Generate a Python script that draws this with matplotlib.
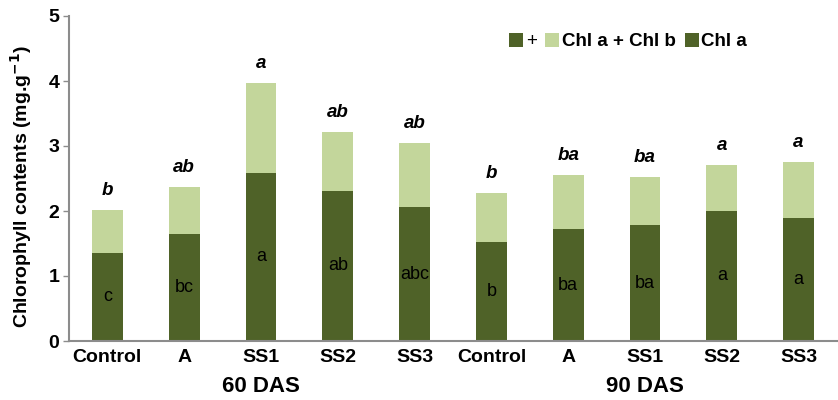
import matplotlib
matplotlib.use("Agg")
import matplotlib.pyplot as plt
from matplotlib.patches import Patch

plt.rcParams['font.family'] = ['Liberation Sans', 'DejaVu Sans']

categories = ["Control", "A", "SS1", "SS2", "SS3", "Control", "A", "SS1", "SS2", "SS3"]
groups = ["60 DAS", "90 DAS"]
chl_a = [1.36, 1.65, 2.59, 2.31, 2.06, 1.53, 1.72, 1.78, 2.00, 1.89]
chl_total = [2.02, 2.37, 3.97, 3.22, 3.05, 2.28, 2.55, 2.53, 2.71, 2.76]
chl_b = [t - a for t, a in zip(chl_total, chl_a)]
letters_a = ["c", "bc", "a", "ab", "abc", "b", "ba", "ba", "a", "a"]
letters_total = ["b", "ab", "a", "ab", "ab", "b", "ba", "ba", "a", "a"]

dark = "#4f6228"
light = "#c3d69b"
gray = "#8c8c8c"

fig = plt.figure(figsize=(8.38, 4.0), dpi=100)
ax = fig.add_axes([0.0823, 0.1475, 0.9165, 0.8125])

x = list(range(len(categories)))
w = 0.40
ax.bar(x, chl_a, width=w, color=dark, edgecolor='none', zorder=2)
ax.bar(x, chl_b, width=w, bottom=chl_a, color=light, edgecolor='none', zorder=2)

for xi, a, t, la, lt in zip(x, chl_a, chl_total, letters_a, letters_total):
    ax.text(xi, a / 2, la, ha='center', va='center', fontsize=13, color='black')
    ax.text(xi, t + 0.17, lt, ha='center', va='bottom', fontsize=13.5,
            fontweight='bold', fontstyle='italic', color='black')

ax.set_xlim(-0.5, len(categories) - 0.5)
ax.set_ylim(0, 5)
ax.set_yticks([0, 1, 2, 3, 4, 5])
ax.set_xticks(x)
ax.set_xticklabels(categories, fontsize=14, fontweight='bold')
for lab in ax.get_yticklabels():
    lab.set_fontsize(14)
    lab.set_fontweight('bold')
ax.tick_params(axis='x', length=0, pad=6)
ax.tick_params(axis='y', length=4, width=1, color=gray, pad=3, direction='out')

for s in ['top', 'right']:
    ax.spines[s].set_visible(False)
ax.spines['left'].set_color(gray)
ax.spines['bottom'].set_color(gray)
ax.spines['left'].set_linewidth(1.5)
ax.spines['bottom'].set_linewidth(1.5)

ax.set_ylabel("Chlorophyll contents (mg.g$^{\\mathbf{-1}}$)", fontsize=14, fontweight='bold')
ax.yaxis.set_label_coords(-0.046, 0.475)

# group labels
for gi, g in enumerate(groups):
    ax.text(2 + gi * 5, -0.139, g, transform=ax.get_xaxis_transform(), ha='center', va='center',
            fontsize=16, fontweight='bold')

handles = [Patch(facecolor=dark, edgecolor='none'),
           Patch(facecolor=light, edgecolor='none'),
           Patch(facecolor=dark, edgecolor='none')]
labels = ["+", "Chl a + Chl b", "Chl a"]
leg = ax.legend(handles, labels, ncol=3, loc='upper right', bbox_to_anchor=(0.905, 1.0),
                frameon=False, handlelength=0.75, handleheight=0.75, handletextpad=0.15,
                columnspacing=0.45, prop={'size': 13.5, 'weight': 'bold'})
leg.get_texts()[0].set_fontweight('normal')

fig.savefig("out.png", dpi=100)
